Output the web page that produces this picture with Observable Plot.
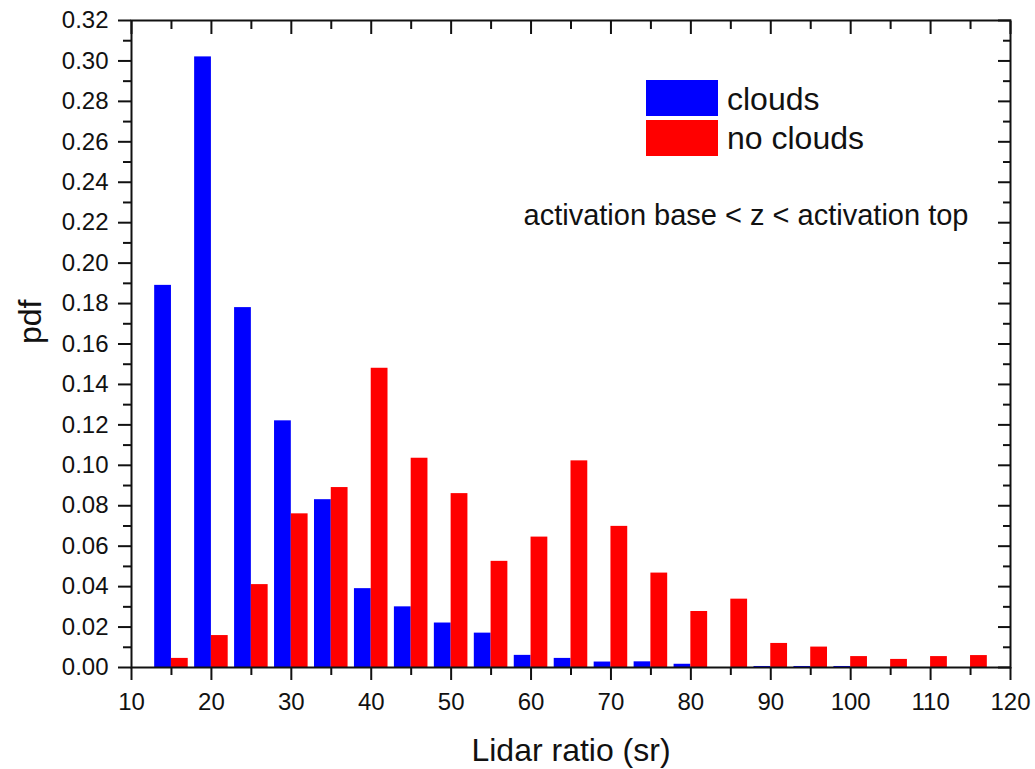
<!DOCTYPE html>
<html>
<head>
<meta charset="utf-8">
<script src="https://cdn.jsdelivr.net/npm/d3@7"></script>
<script src="https://cdn.jsdelivr.net/npm/@observablehq/plot@0.6"></script>
<style>
  html, body { margin: 0; padding: 0; background: #fff; }
  #wrap { position: relative; width: 1035px; height: 769px; font-family: Arial, "Liberation Sans", sans-serif; color: #111; }
  #wrap svg { position: absolute; left: 0; top: 0; }
  .sw { position: absolute; width: 72px; height: 36px; }
  .lg { position: absolute; font-size: 32px; line-height: 36px; }
</style>
</head>
<body>
<div id="wrap"></div>
<script>
// Bin centres (sr)
const centers = [15, 20, 25, 30, 35, 40, 45, 50, 55, 60, 65, 70, 75, 80, 85, 90, 95, 100, 105, 110, 115];
// pdf values, series "clouds"
const clouds = [0.189, 0.302, 0.178, 0.122, 0.083, 0.039, 0.030, 0.022, 0.017, 0.006, 0.0045, 0.0027, 0.0028, 0.0016, 0, 0.0005, 0.0005, 0.0005, 0, 0, 0];
// pdf values, series "no clouds"
const noClouds = [0.0045, 0.0158, 0.041, 0.076, 0.089, 0.148, 0.1035, 0.086, 0.0525, 0.0645, 0.1022, 0.0698, 0.0467, 0.0277, 0.0338, 0.0119, 0.0101, 0.0054, 0.0040, 0.0054, 0.0059];
const seriesNames = ["clouds", "no clouds"];
const seriesColors = ["#0000ff", "#ff0000"];
const xTicks = [10, 20, 30, 40, 50, 60, 70, 80, 90, 100, 110, 120];
const xMinorTicks = [15, 25, 35, 45, 55, 65, 75, 85, 95, 105, 115];
const yTicks = [0, 0.02, 0.04, 0.06, 0.08, 0.10, 0.12, 0.14, 0.16, 0.18, 0.20, 0.22, 0.24, 0.26, 0.28, 0.30, 0.32];
const yMinorTicks = [0.01, 0.03, 0.05, 0.07, 0.09, 0.11, 0.13, 0.15, 0.17, 0.19, 0.21, 0.23, 0.25, 0.27, 0.29, 0.31];
const xTitle = "Lidar ratio (sr)";
const yTitle = "pdf";
const note = "activation base < z < activation top";

const barW = 2.1;
const rows = [];
centers.forEach((c, i) => {
  rows.push({series: seriesNames[0], x1: c - barW, x2: c, y: clouds[i]});
  rows.push({series: seriesNames[1], x1: c, x2: c + barW, y: noClouds[i]});
});

const ink = "#111";
const chart = Plot.plot({
  width: 1035,
  height: 769,
  marginLeft: 131,
  marginRight: 25,
  marginTop: 20,
  marginBottom: 102,
  style: {fontFamily: "Arial, 'Liberation Sans', sans-serif", fontSize: "24px", color: ink, background: "#fff"},
  x: {domain: [10, 120]},
  y: {domain: [0, 0.32]},
  color: {domain: seriesNames, range: seriesColors},
  marks: [
    Plot.rectY(rows, {x1: "x1", x2: "x2", y: "y", fill: "series"}),
    Plot.frame({stroke: ink, strokeWidth: 2}),
    // bottom axis
    Plot.axisX(xTicks, {anchor: "bottom", tickSize: 13, tickPadding: 12, strokeWidth: 2, fontSize: 24, label: null, tickFormat: d => String(d)}),
    Plot.axisX(xMinorTicks, {anchor: "bottom", tickSize: 8, strokeWidth: 2, tickFormat: () => "", label: null}),
    // top axis, ticks inward
    Plot.axisX(xTicks, {anchor: "top", tickSize: -13, strokeWidth: 2, tickFormat: () => "", label: null}),
    Plot.axisX(xMinorTicks, {anchor: "top", tickSize: -8, strokeWidth: 2, tickFormat: () => "", label: null}),
    // left axis
    Plot.axisY(yTicks, {anchor: "left", tickSize: 13, tickPadding: 10, strokeWidth: 2, fontSize: 24, label: null, tickFormat: d3.format(".2f")}),
    Plot.axisY(yMinorTicks, {anchor: "left", tickSize: 8, strokeWidth: 2, tickFormat: () => "", label: null}),
    // right axis, ticks inward
    Plot.axisY(yTicks, {anchor: "right", tickSize: -13, strokeWidth: 2, tickFormat: () => "", label: null}),
    Plot.axisY(yMinorTicks, {anchor: "right", tickSize: -8, strokeWidth: 2, tickFormat: () => "", label: null}),
    // titles
    Plot.text([xTitle], {frameAnchor: "bottom", lineAnchor: "middle", dy: 83, fontSize: 32, fill: ink}),
    Plot.text([yTitle], {frameAnchor: "left", lineAnchor: "middle", dx: -101, rotate: -90, fontSize: 32, fill: ink}),
    Plot.text([note], {frameAnchor: "top-right", lineAnchor: "middle", textAnchor: "end", dx: -42, dy: 195, fontSize: 29, fill: ink})
  ]
});

const wrap = document.getElementById("wrap");
wrap.appendChild(chart);

// legend
seriesNames.forEach((name, i) => {
  const sw = document.createElement("div");
  sw.className = "sw";
  sw.style.left = "646px";
  sw.style.top = (80 + i * 40) + "px";
  sw.style.background = seriesColors[i];
  wrap.appendChild(sw);
  const lb = document.createElement("div");
  lb.className = "lg";
  lb.style.left = "727px";
  lb.style.top = (81 + i * 39) + "px";
  lb.textContent = name;
  wrap.appendChild(lb);
});
</script>
</body>
</html>
